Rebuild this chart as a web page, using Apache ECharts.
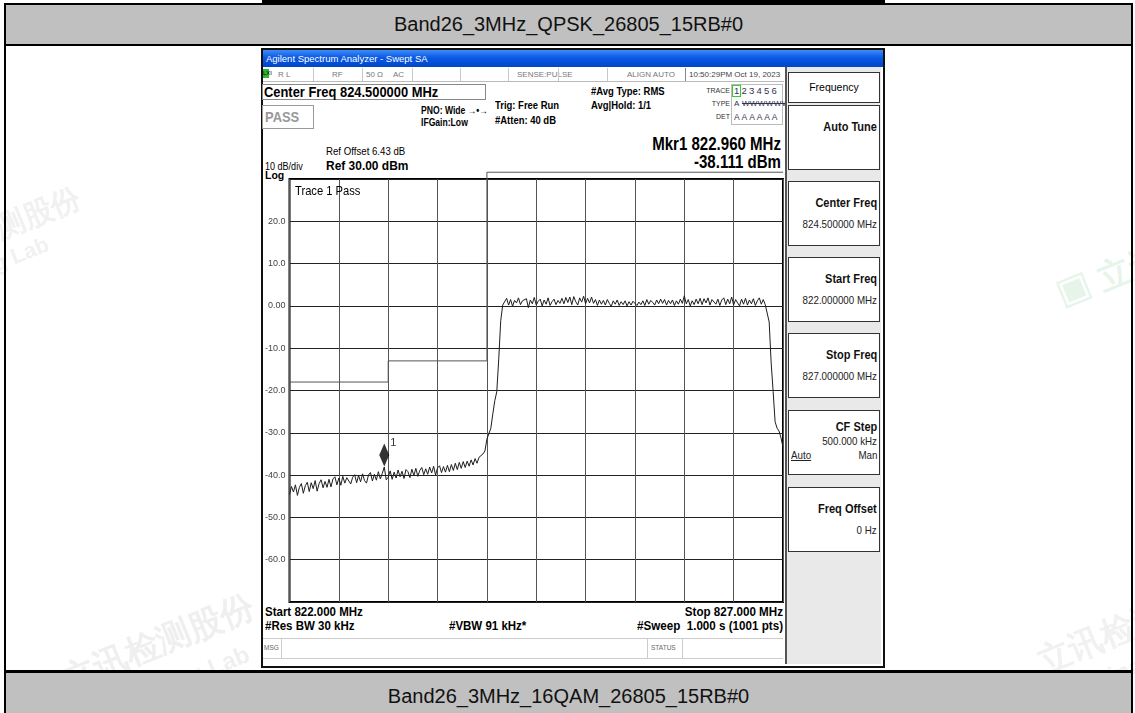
<!DOCTYPE html>
<html>
<head>
<meta charset="utf-8">
<script src="https://cdn.jsdelivr.net/npm/echarts@6/dist/echarts.min.js"></script>
<style>
  body { margin: 0; width: 1135px; height: 713px; position: relative; overflow: hidden; background: #fff;
         font-family: "Liberation Sans", Arial, sans-serif; }
  .a { position: absolute; white-space: nowrap; }
  .n { font-family: "Liberation Sans Narrow", "Arial Narrow", "Liberation Sans", sans-serif; }
  .b { font-weight: bold; }
  .c86 { transform: scaleX(0.86); transform-origin: left center; }
  .c92 { transform: scaleX(0.92); transform-origin: left center; }
  .r86 { transform: scaleX(0.86); transform-origin: right center; }
  .r92 { transform: scaleX(0.93); transform-origin: right center; }
  .blk { position: absolute; background: #000; z-index: 3; }
  .hdr { position: absolute; left: 6px; width: 1125px; background: #c0c0c0; text-align: center;
         font-size: 20px; color: #111; z-index: 3; }
  .sep { position: absolute; top: 68px; width: 1px; height: 13px; background: #c8c8c8; }
  .st { position: absolute; top: 69px; font-size: 8px; color: #777; line-height: 12px; }
  .key { position: absolute; left: 788px; width: 90px; height: 63px; background: #fff; border: 1px solid #333; }
  .key .t { position: absolute; right: 2px; top: 14px; font-size: 12.5px; font-weight: bold; color: #111;
            transform: scaleX(0.88); transform-origin: right center; }
  .key .v { position: absolute; right: 2px; top: 36px; font-size: 10.5px; color: #222;
            transform: scaleX(0.93); transform-origin: right center; }
  .wm { position: absolute; color: rgba(110,110,110,0.11); font-weight: bold; transform: rotate(-22deg);
        transform-origin: left top; white-space: nowrap; pointer-events: none; z-index: 1; }
</style>
</head>
<body>
<!-- watermarks (under the table bands) -->
<div class="wm" style="left:-95px;top:245px;font-size:30px;">立讯检测股份</div>
<div class="wm" style="left:-70px;top:277px;font-size:22px;">Testing Lab</div>
<div class="wm" style="left:55px;top:660px;font-size:34px;">立讯检测股份</div>
<div class="wm" style="left:120px;top:690px;font-size:24px;">Testing Lab</div>
<div class="wm" style="left:1030px;top:642px;font-size:34px;">立讯检测股份</div>
<div class="wm" style="left:1060px;top:682px;font-size:24px;">Testing Lab</div>
<div class="wm" style="left:1050px;top:276px;font-size:34px;color:rgba(60,170,90,0.13);">▣ 立讯</div>

<!-- table frame -->
<div class="blk" style="left:262px;top:0;width:623px;height:3px;"></div>
<div class="blk" style="left:4px;top:3px;width:1129px;height:2px;"></div>
<div class="hdr" style="top:5px;height:39px;line-height:39px;">Band26_3MHz_QPSK_26805_15RB#0</div>
<div class="blk" style="left:4px;top:44px;width:1129px;height:2px;"></div>
<div class="blk" style="left:4px;top:3px;width:2px;height:710px;"></div>
<div class="blk" style="left:1131px;top:3px;width:2px;height:710px;"></div>
<div class="blk" style="left:4px;top:670px;width:1129px;height:3px;"></div>
<div class="hdr" style="top:673px;height:40px;line-height:46px;">Band26_3MHz_16QAM_26805_15RB#0</div>

<!-- analyzer screenshot -->
<div class="a" style="left:261px;top:48px;width:620px;height:616px;border:2px solid #111;background:#fff;"></div>
<div class="a n" style="left:263px;top:50px;width:620px;height:17px;background:linear-gradient(#3f8cf5,#0a5ae6 45%,#0046c8);
     color:#fff;font-size:9.5px;line-height:17px;padding-left:3px;box-sizing:border-box;">Agilent Spectrum Analyzer - Swept SA</div>

<!-- status row -->
<div class="a" style="left:263px;top:67px;width:521px;height:14px;border-bottom:1px solid #bbb;background:#fff;"></div>
<div class="a" style="left:263px;top:69px;width:6px;height:9px;background:#2fb82f;font-size:6px;line-height:9px;color:#000;">LXI</div>
<div class="st n" style="left:278px;">R L</div>
<div class="st n" style="left:332px;">RF</div>
<div class="st n" style="left:366px;">50 Ω</div>
<div class="st n" style="left:393px;">AC</div>
<div class="st n" style="left:517px;">SENSE:PULSE</div>
<div class="st n" style="left:627px;">ALIGN AUTO</div>
<div class="st n" style="left:689px;color:#444;">10:50:29PM Oct 19, 2023</div>
<div class="sep" style="left:313px;"></div>
<div class="sep" style="left:362px;"></div>
<div class="sep" style="left:412px;"></div>
<div class="sep" style="left:460px;"></div>
<div class="sep" style="left:508px;"></div>
<div class="sep" style="left:558px;"></div>
<div class="sep" style="left:607px;"></div>
<div class="sep" style="left:685px;background:#888;"></div>

<!-- measurement header -->
<div class="a" style="left:262px;top:84px;width:224px;height:16px;border:1px solid #888;box-sizing:border-box;"></div>
<div class="a n b c86" style="left:264px;top:84px;font-size:15px;line-height:16px;">Center Freq 824.500000 MHz</div>
<div class="a" style="left:262px;top:105px;width:52px;height:24px;border:1px solid #999;box-sizing:border-box;"></div>
<div class="a n b c86" style="left:265px;top:106px;font-size:15px;line-height:22px;color:#999;">PASS</div>
<div class="a n b c86" style="left:421px;top:105px;font-size:10px;">PNO: Wide &#8594;&#8226;&#8594;</div>
<div class="a n b c86" style="left:421px;top:117px;font-size:10px;">IFGain:Low</div>
<div class="a n b c86" style="left:495px;top:99px;font-size:11px;">Trig: Free Run</div>
<div class="a n b c86" style="left:495px;top:114px;font-size:11px;">#Atten: 40 dB</div>
<div class="a n b c86" style="left:591px;top:85px;font-size:11px;">#Avg Type: RMS</div>
<div class="a n b c86" style="left:591px;top:99px;font-size:11px;">Avg|Hold: 1/1</div>
<div class="a n" style="left:703px;top:87px;font-size:7px;color:#333;width:27px;text-align:right;">TRACE</div>
<div class="a n" style="left:703px;top:100px;font-size:7px;color:#333;width:27px;text-align:right;">TYPE</div>
<div class="a n" style="left:703px;top:113px;font-size:7px;color:#333;width:27px;text-align:right;">DET</div>
<div class="a" style="left:731px;top:84px;width:52px;height:41px;border:1px solid #bbb;box-sizing:border-box;"></div>
<div class="a" style="left:732px;top:85px;width:9px;height:12px;border:1px solid #3c3;box-sizing:border-box;"></div>
<div class="a n" style="left:734px;top:85px;font-size:9.5px;color:#335;letter-spacing:2.2px;">123456</div>
<div class="a n" style="left:734px;top:99px;font-size:8px;color:#335;letter-spacing:0.4px;">A <s>WWWWWW</s></div>
<div class="a n" style="left:734px;top:112px;font-size:8.5px;color:#335;letter-spacing:1.9px;">AAAAAA</div>

<div class="a n b r86" style="left:580px;top:134px;width:201px;text-align:right;font-size:17.5px;">Mkr1 822.960 MHz</div>
<div class="a n b r86" style="left:580px;top:152px;width:201px;text-align:right;font-size:17.5px;">-38.111 dBm</div>
<div class="a n c92" style="left:326px;top:145px;font-size:10.5px;">Ref Offset 6.43 dB</div>
<div class="a n c86" style="left:265px;top:160px;font-size:10.5px;">10 dB/div</div>
<div class="a n b c92" style="left:326px;top:158px;font-size:13px;">Ref 30.00 dBm</div>
<div class="a n b" style="left:265px;top:169px;font-size:10.5px;">Log</div>

<!-- bottom info -->
<div class="a n b c92" style="left:265px;top:605px;font-size:12.5px;">Start 822.000 MHz</div>
<div class="a n b r92" style="left:580px;top:605px;width:203px;text-align:right;font-size:12.5px;">Stop 827.000 MHz</div>
<div class="a n b c92" style="left:265px;top:619px;font-size:12.5px;">#Res BW 30 kHz</div>
<div class="a n b c92" style="left:449px;top:619px;font-size:12.5px;">#VBW 91 kHz*</div>
<div class="a n b r92" style="left:540px;top:619px;width:243px;text-align:right;font-size:12.5px;">#Sweep&nbsp; 1.000 s (1001 pts)</div>
<div class="a" style="left:263px;top:638px;width:520px;height:21px;border-top:1px solid #ccc;border-bottom:1px solid #ccc;box-sizing:border-box;"></div>
<div class="a" style="left:281px;top:638px;width:1px;height:21px;background:#ccc;"></div>
<div class="a" style="left:647px;top:638px;width:1px;height:21px;background:#ccc;"></div>
<div class="a" style="left:682px;top:638px;width:1px;height:21px;background:#ccc;"></div>
<div class="a n" style="left:264px;top:644px;font-size:6.5px;color:#666;">MSG</div>
<div class="a n" style="left:651px;top:644px;font-size:6.5px;color:#666;">STATUS</div>

<!-- softkeys -->
<div class="a" style="left:785px;top:67px;width:96px;height:597px;background:#e9e9e9;border-left:2px solid #555;box-sizing:border-box;"></div>
<div class="a n" style="left:788px;top:72px;width:92px;height:31px;background:#fff;border:1px solid #333;box-sizing:border-box;text-align:center;font-size:10.5px;line-height:29px;">Frequency</div>
<div class="key n" style="top:105px;"><div class="t">Auto Tune</div></div>
<div class="key n" style="top:181px;"><div class="t">Center Freq</div><div class="v">824.500000 MHz</div></div>
<div class="key n" style="top:257px;"><div class="t">Start Freq</div><div class="v">822.000000 MHz</div></div>
<div class="key n" style="top:333px;"><div class="t">Stop Freq</div><div class="v">827.000000 MHz</div></div>
<div class="key n" style="top:410px;"><div class="t" style="top:9px;">CF Step</div><div class="v" style="top:24px;">500.000 kHz</div>
  <div class="v" style="top:38px;right:auto;left:2px;text-decoration:underline;transform-origin:left center;">Auto</div><div class="v" style="top:38px;">Man</div></div>
<div class="key n" style="top:487px;"><div class="t">Freq Offset</div><div class="v">0 Hz</div></div>

<!-- spectrum plot -->
<div id="plot" class="a" style="left:262px;top:168px;width:528px;height:442px;"></div>
<div class="a n c86" style="left:295px;top:183px;font-size:13px;">Trace 1 Pass</div>

<script>
// sweep: 822 -> 827 MHz, trace read at 0.02 MHz spacing
var startFreq = 822.0;
var freqStep = 0.02;

// levels in dBm
var levelsLowerSide = [
  -44.6, -42.7, -44.0, -42.3, -44.8, -42.9, -42.0, -44.3, -42.5, -41.7,
  -43.9, -41.8, -43.2, -41.3, -43.8, -42.0, -41.1, -43.0, -41.5, -42.9,
  -41.0, -42.8, -40.9, -40.4, -42.3, -40.7, -42.4, -40.3, -41.9, -40.6,
  -40.2, -42.1, -40.5, -39.9, -41.8, -40.1, -41.6, -39.7, -41.3, -41.9,
  -40.0, -39.4, -41.4, -39.8, -41.2, -39.2, -40.9, -39.6, -38.1, -41.1,
  -40.5, -39.0, -41.0, -39.3, -40.7, -38.8, -40.4, -39.1, -40.8, -38.7,
  -39.2, -40.6, -38.6, -40.1, -38.4, -40.3, -38.9, -38.2, -39.9, -38.5,
  -39.8, -38.1, -39.5, -37.9, -40.0, -38.3, -37.8, -39.4, -38.0, -39.3,
  -37.7, -39.2, -37.5, -38.9, -37.2, -38.7, -37.0, -38.4, -36.8, -38.2,
  -36.7, -37.9, -36.4, -37.6, -36.1, -37.2, -35.8, -35.9, -35.0
];
var levelsRise = [-34.3, -31.5, -30.2, -28.9, -25.5, -22.4, -20.3, -12.5, -3.5, 0.2];
var levelsChannel = [
  0.6, 1.8, 0.2, 1.5, -0.1, 1.3, 0.7, 1.9, 0.3, 1.2,
  0.9, 1.7, -0.4, 1.4, 0.5, 2.0, 0.2, 1.1, 1.6, 0.0,
  1.4, 0.4, 1.9, 0.1, 1.0, 1.6, 0.3, 1.3, 0.6, 1.8,
  0.5, 2.0, 0.8, 2.1, 0.3, 2.2, 1.0, 0.2, 1.9, 0.9,
  2.3, 0.5, 1.8, 0.7, 2.1, 0.6, 1.5, 0.1, 1.4, 0.4,
  1.3, 0.2, 1.5, 0.6, -0.1, 1.2, 0.4, 1.4, 0.1, 1.0,
  0.3, 1.2, 0.0, 1.0, 0.2, 1.1, 1.4, 0.1, 0.9, 0.3,
  1.2, 0.1, 1.5, 0.4, 1.3, 0.8, 0.2, 1.4, 0.5, 1.6,
  0.6, 1.5, 0.2, 1.3, 0.5, 1.4, 0.1, 1.2, 0.4, 1.6,
  0.6, 2.4, 0.5, 1.5, 0.0, 1.2, 0.3, 1.6, 0.5, 1.8,
  0.3, 1.7, 0.7, 1.9, 0.2, 1.5, 1.8, 0.4, 1.6, 0.1,
  1.4, 1.9, 0.3, 1.6, 0.5, 2.1, 0.2, 1.5, 0.7, 0.0,
  1.6, 0.4, 1.8, 0.2, 1.4, 0.5, 1.7, 0.1, 1.2, 1.9,
  0.4, 1.5, 0.3
];
var levelsFall = [0.4, -3.8, -13.5, -20.2, -27.4, -28.9, -29.6, -31.2, -33.4];

// emission mask (limit line)
var limitFreqs = [822.0, 823.0, 823.0, 824.0, 824.0, 827.0];
var limitLevels = [-18.0, -18.0, -13.0, -13.0, 31.6, 31.6];

// marker 1
var markerFreq = 822.960;
var markerLevel = -38.111;

var yTickValues = [20, 10, 0, -10, -20, -30, -40, -50, -60];
var yTickText = ["20.0", "10.0", "0.00", "-10.0", "-20.0", "-30.0", "-40.0", "-50.0", "-60.0"];

var levels = levelsLowerSide.concat(levelsRise, levelsChannel, levelsFall);
var traceData = [];
for (var i = 0; i < levels.length; i++) {
  traceData.push([+(startFreq + i * freqStep).toFixed(2), levels[i]]);
}
var limitData = [];
for (var j = 0; j < limitFreqs.length; j++) {
  limitData.push([limitFreqs[j], limitLevels[j]]);
}

var narrow = '"Liberation Sans Narrow", "Arial Narrow", "Liberation Sans", sans-serif';
var myChart = echarts.init(document.getElementById("plot"));
var option = {
  animation: false,
  grid: { left: 27, top: 11, width: 494, height: 423, show: true, borderColor: "#000", borderWidth: 2 },
  xAxis: {
    type: "value", min: 822, max: 827, interval: 0.5,
    axisLine: { show: false }, axisTick: { show: false }, axisLabel: { show: false },
    splitLine: { lineStyle: { color: "#555", width: 1 } }
  },
  yAxis: {
    type: "value", min: -70, max: 30, interval: 10,
    axisLine: { show: false }, axisTick: { show: false },
    axisLabel: {
      margin: 4, fontSize: 9, color: "#444", fontFamily: narrow,
      formatter: function (v) {
        var k = yTickValues.indexOf(v);
        return k < 0 ? "" : yTickText[k];
      }
    },
    splitLine: { lineStyle: { color: "#222", width: 1 } }
  },
  series: [
    {
      name: "limit", type: "line", data: limitData, clip: false, showSymbol: false, silent: true,
      lineStyle: { color: "#555", width: 1 }, z: 3
    },
    {
      name: "trace", type: "line", data: traceData, showSymbol: false,
      lineStyle: { color: "#1e1e1e", width: 1 }, z: 4
    },
    {
      name: "marker", type: "scatter", data: [[markerFreq, markerLevel]],
      symbol: "diamond", symbolSize: [10, 23], symbolOffset: [0, -12],
      itemStyle: { color: "#000" }, z: 5,
      label: { show: true, formatter: "1", position: [11, -6], fontSize: 11, color: "#000", fontFamily: narrow }
    }
  ]
};
myChart.setOption(option);
</script>
</body>
</html>
